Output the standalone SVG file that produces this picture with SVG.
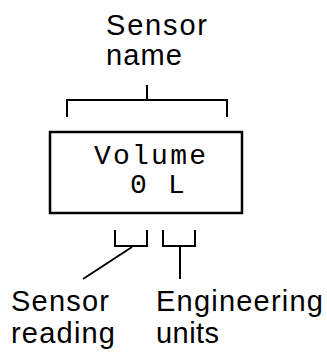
<svg xmlns="http://www.w3.org/2000/svg" width="327" height="353" viewBox="0 0 327 353">
<style>
.lbl{font-family:"Liberation Sans",Arial,sans-serif;font-size:29px;fill:#000}
.mono{font-family:"Liberation Mono","Courier New",monospace;font-size:28px;fill:#000}
.ln{fill:none;stroke:#000;stroke-width:2}
</style>
<rect width="327" height="353" fill="#fff"/>
<g id="sensor-name-label">
<text class="lbl" x="106" y="35" font-size="30" textLength="101">Sensor</text>
<text class="lbl" x="106" y="65" font-size="30" textLength="76">name</text>
</g>
<g id="display">
<rect x="50" y="132" width="192" height="81" fill="#fff" stroke="#000" stroke-width="2.5"/>
<text class="mono" x="94" y="164" textLength="112">Volume</text>
<text class="mono" x="130" y="193">0</text>
<text class="mono" x="168" y="193">L</text>
</g>
<g id="sensor-reading-label">
<text class="lbl" x="11" y="311" textLength="98">Sensor</text>
<text class="lbl" x="11" y="343" textLength="104">reading</text>
</g>
<g id="engineering-units-label">
<text class="lbl" x="156" y="311" textLength="167">Engineering</text>
<text class="lbl" x="156" y="343" textLength="63">units</text>
</g>
<g id="connectors">
<path class="ln" d="M67,117 V100 H227 V117 M147,85 V100"/>
<path class="ln" d="M115,230 V246 H147 V230"/>
<path class="ln" d="M163,230 V246 H195 V230 M180,246 V279"/>
<path class="ln" d="M132,247 L83,279"/>
</g>
</svg>
